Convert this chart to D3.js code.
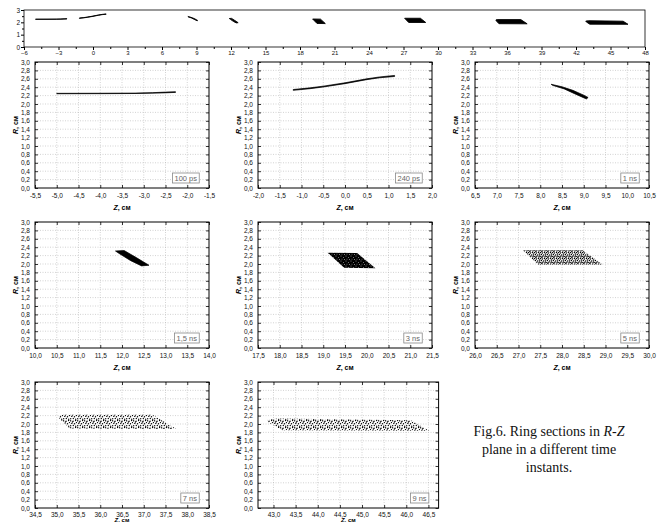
<!DOCTYPE html>
<html>
<head>
<meta charset="utf-8">
<script src="https://cdn.jsdelivr.net/npm/d3@7"></script>
<style>
  body { margin: 0; background: #fff; }
  svg { display: block; font-family: "Liberation Sans", Arial, sans-serif; }
  .grid line { stroke: #b5b5b5; stroke-width: 0.6; stroke-dasharray: 1,1.5; }
  .tick text { font-size: 6.5px; fill: #111; }
</style>
</head>
<body>
<div id="fig"></div>
<script>
// time instants shown in the eight small panels
var timeLabels = ['100 ps', '240 ps', '1 ns', '1,5 ns', '3 ns', '5 ns', '7 ns', '9 ns'];

// Z range (cm) of every small panel
var zDomains = [[-5.5, -1.5], [-2, 2], [6.5, 10.5], [10, 14], [17.5, 21.5], [26, 30], [34.5, 38.5], [42.65, 46.73]];
var rDomain = [0, 3];
var rTicks = [0, 0.2, 0.4, 0.6, 0.8, 1.0, 1.2, 1.4, 1.6, 1.8, 2.0, 2.2, 2.4, 2.6, 2.8, 3.0];

// ring section outlines, [Z, R]
var sec100ps = [[-5.0, 2.254], [-4.0, 2.256], [-3.2, 2.26], [-2.8, 2.27], [-2.5, 2.283], [-2.27, 2.292],
                [-2.27, 2.276], [-2.6, 2.262], [-3.2, 2.25], [-4.0, 2.246], [-5.0, 2.244]];
var sec240ps = [[-1.19, 2.345], [-0.8, 2.385], [-0.5, 2.425], [0.0, 2.505], [0.5, 2.6], [0.8, 2.645], [1.14, 2.68],
                [1.14, 2.655], [0.8, 2.625], [0.5, 2.58], [0.0, 2.485], [-0.5, 2.405], [-0.8, 2.365], [-1.19, 2.325]];
var sec1ns = [[8.25, 2.47], [8.5, 2.41], [8.75, 2.325], [9.0, 2.21], [9.1, 2.155],
              [9.06, 2.12], [8.8, 2.24], [8.55, 2.36], [8.28, 2.445]];
var sec1_5ns = [[11.85, 2.31], [12.05, 2.32], [12.3, 2.17], [12.62, 1.97],
                [12.45, 1.955], [12.2, 2.08], [11.95, 2.24]];
var sec3ns = [[19.1, 2.27], [19.78, 2.26], [20.2, 1.9], [19.48, 1.91]];
var sec5ns = [[27.1, 2.33], [28.47, 2.33], [28.93, 1.99], [27.45, 1.99]];
var sec7ns = [[35.05, 2.2], [35.15, 2.22], [37.2, 2.22], [37.75, 1.88], [35.3, 1.89], [35.05, 2.14]];
var sec9ns = [[42.85, 2.1], [43.1, 2.13], [46.1, 2.09], [46.52, 1.84], [43.2, 1.85], [42.9, 2.03]];

var sections = [sec100ps, sec240ps, sec1ns, sec1_5ns, sec3ns, sec5ns, sec7ns, sec9ns];
var fills = ['solid', 'solid', 'solid', 'solid', 'dense', 'mid', 'sparse', 'sparse'];

// overview strip
var ovZDomain = [-6, 48];
var ovZTicks = [-6, -3, 0, 3, 6, 9, 12, 15, 18, 21, 24, 27, 30, 33, 36, 39, 42, 45, 48];
var ovRTicks = [0, 1, 2, 3];

var caption = ['Fig.6. Ring sections in ', 'plane in a different time', 'instants.'];

var W = 663, H = 522;
var comma = d3.formatLocale({decimal: ',', thousands: ' ', grouping: [3], currency: ['', ''], minus: '-'});
var fmt1 = comma.format('.1f');

var svg = d3.select('#fig').append('svg').attr('width', W).attr('height', H);

// stipple patterns for the scattered particle clouds
var defs = svg.append('defs');
var pDense = defs.append('pattern').attr('id', 'dense').attr('patternUnits', 'userSpaceOnUse')
    .attr('width', 5).attr('height', 5);
pDense.append('rect').attr('width', 5).attr('height', 5).attr('fill', '#000');
[[1, 1], [3.6, 2.4], [2, 4.1], [4.4, 4.6]].forEach(p => {
    pDense.append('circle').attr('cx', p[0]).attr('cy', p[1]).attr('r', 0.45).attr('fill', '#fff');
});
var pMid = defs.append('pattern').attr('id', 'mid').attr('patternUnits', 'userSpaceOnUse')
    .attr('width', 6).attr('height', 6);
[[0.5, 0.6], [2.4, 1.1], [4.5, 0.4], [1.4, 2.6], [3.7, 2.9], [5.5, 2.1], [0.8, 4.6], [2.8, 4.3], [4.8, 5.1], [5.6, 3.9], [1.9, 5.6]]
    .forEach(p => {
        pMid.append('circle').attr('cx', p[0]).attr('cy', p[1]).attr('r', 0.75).attr('fill', '#000');
    });
var pSparse = defs.append('pattern').attr('id', 'sparse').attr('patternUnits', 'userSpaceOnUse')
    .attr('width', 7).attr('height', 7);
[[0.6, 0.8], [3.1, 1.3], [5.6, 0.5], [1.8, 3.4], [4.5, 3.7], [6.5, 2.6], [0.7, 5.8], [3.3, 5.5], [5.7, 6.3], [2.4, 2.0]]
    .forEach(p => {
        pSparse.append('circle').attr('cx', p[0]).attr('cy', p[1]).attr('r', 0.68).attr('fill', '#000');
    });

// ---------- overview strip ----------
var ov = {x: 24, y: 10, w: 621, h: 37};
var ovX = d3.scaleLinear().domain(ovZDomain).range([ov.x, ov.x + ov.w]);
var ovY = d3.scaleLinear().domain(rDomain).range([ov.y + ov.h, ov.y]);

svg.append('g').attr('transform', `translate(0,${ov.y + ov.h})`).attr('color', '#000')
    .call(d3.axisBottom(ovX).tickValues(ovZTicks).tickSize(3).tickPadding(1).tickFormat(d3.format('d')))
    .call(g => g.select('.domain').remove())
    .call(g => g.selectAll('text').style('font-size', '6px'));
svg.append('g').attr('transform', `translate(0,${ov.y + ov.h})`).attr('color', '#000')
    .call(d3.axisBottom(ovX).tickValues(d3.range(-4.5, 48, 3)).tickSize(2).tickFormat(''))
    .call(g => g.select('.domain').remove());
svg.append('g').attr('transform', `translate(${ov.x},0)`).attr('color', '#000')
    .call(d3.axisLeft(ovY).tickValues(ovRTicks).tickSize(3).tickPadding(1).tickFormat(d3.format('d')))
    .call(g => g.select('.domain').remove())
    .call(g => g.selectAll('text').style('font-size', '6.5px'));
svg.append('g').attr('transform', `translate(${ov.x},0)`).attr('color', '#000')
    .call(d3.axisLeft(ovY).tickValues([0.5, 1.5, 2.5]).tickSize(2).tickFormat(''))
    .call(g => g.select('.domain').remove());
svg.append('rect').attr('x', ov.x).attr('y', ov.y).attr('width', ov.w).attr('height', ov.h)
    .attr('fill', 'none').attr('stroke', '#000').attr('stroke-width', 0.8);

var ovLine = d3.line().x(d => ovX(d[0])).y(d => ovY(d[1])).curve(d3.curveLinearClosed);
svg.append('g').selectAll('path').data(sections).join('path')
    .attr('d', ovLine).attr('fill', '#000').attr('stroke', '#000').attr('stroke-width', 0.9)
    .attr('stroke-linejoin', 'round');

// ---------- small panels ----------
var colX = [35, 258, 475];
var rowY = [62, 222, 382];
var pw = 174, ph = 126;

sections.forEach((sec, i) => {
    var x0 = colX[i % 3], y0 = rowY[Math.floor(i / 3)];
    var lastRow = i >= 6;
    var w = i === 7 ? 180.6 : pw;
    var dom = zDomains[i];
    var x = d3.scaleLinear().domain(dom).range([x0, x0 + w]);
    var y = d3.scaleLinear().domain(rDomain).range([y0 + ph, y0]);
    var zTicks = d3.range(Math.ceil(dom[0] * 2 - 1e-6) / 2, dom[1] + 1e-6, 0.5);

    var p = svg.append('g').attr('color', '#000');

    // dotted grid
    p.append('g').attr('class', 'grid').selectAll('line')
        .data(zTicks.filter(t => x(t) > x0 + 1 && x(t) < x0 + w - 1)).join('line')
        .attr('x1', d => x(d)).attr('x2', d => x(d)).attr('y1', y0).attr('y2', y0 + ph);
    p.append('g').attr('class', 'grid').selectAll('line')
        .data(rTicks.slice(1, -1)).join('line')
        .attr('y1', d => y(d)).attr('y2', d => y(d)).attr('x1', x0).attr('x2', x0 + w);

    // axes, ticks pointing inward on all four sides
    p.append('g').attr('transform', `translate(0,${y0 + ph})`)
        .call(d3.axisBottom(x).tickValues(zTicks).tickSize(-3).tickPadding(lastRow ? 4 : 5).tickFormat(fmt1))
        .call(g => g.select('.domain').remove());
    p.append('g').attr('transform', `translate(0,${y0})`)
        .call(d3.axisTop(x).tickValues(zTicks).tickSize(-3).tickFormat(''))
        .call(g => g.select('.domain').remove());
    p.append('g').attr('transform', `translate(${x0},0)`)
        .call(d3.axisLeft(y).tickValues(rTicks).tickSize(-3).tickPadding(5).tickFormat(fmt1))
        .call(g => g.select('.domain').remove());
    p.append('g').attr('transform', `translate(${x0 + w},0)`)
        .call(d3.axisRight(y).tickValues(rTicks).tickSize(-3).tickFormat(''))
        .call(g => g.select('.domain').remove());
    p.selectAll('.tick line').attr('stroke', '#000').attr('stroke-width', 0.8);

    p.append('rect').attr('x', x0).attr('y', y0).attr('width', w).attr('height', ph)
        .attr('fill', 'none').attr('stroke', '#000').attr('stroke-width', 1);

    // ring section
    var line = d3.line().x(d => x(d[0])).y(d => y(d[1])).curve(d3.curveLinearClosed);
    var solid = fills[i] === 'solid';
    p.append('path').datum(sec).attr('d', line)
        .attr('fill', solid ? '#000' : `url(#${fills[i]})`)
        .attr('stroke', solid ? '#000' : 'none')
        .attr('stroke-width', 0.7).attr('stroke-linejoin', 'round');

    // axis titles
    var zt = p.append('text').attr('x', x0 + w / 2).attr('y', lastRow ? 521.5 : y0 + ph + 22)
        .attr('text-anchor', 'middle').style('font-size', lastRow ? '6px' : '7px').style('font-weight', 'bold');
    zt.append('tspan').style('font-style', 'italic').text('Z');
    zt.append('tspan').text(', см');
    var rt = p.append('text').attr('transform', `translate(${x0 - 17},${y0 + ph / 2})rotate(-90)`)
        .attr('text-anchor', 'middle').style('font-size', '7px').style('font-weight', 'bold');
    rt.append('tspan').style('font-style', 'italic').text('R');
    rt.append('tspan').text(', см');

    // time label box
    var box = p.append('rect').attr('fill', '#fff').attr('stroke', '#888').attr('stroke-width', 0.8);
    var tl = p.append('text').attr('x', x0 + w - 12).attr('y', y0 + ph - 7)
        .attr('text-anchor', 'end').style('font-size', '7.5px').attr('fill', '#666').text(timeLabels[i]);
    var bb = tl.node().getBBox();
    box.attr('x', bb.x - 2).attr('y', y0 + ph - 15).attr('width', bb.width + 4).attr('height', 10);
});

// caption
var cap = svg.append('g').style('font-family', '"Liberation Serif", "Times New Roman", serif')
    .style('font-size', '14px').attr('text-anchor', 'middle').attr('fill', '#111');
var c1 = cap.append('text').attr('x', 549).attr('y', 436);
c1.append('tspan').text(caption[0]);
c1.append('tspan').style('font-style', 'italic').text('R');
c1.append('tspan').text('-');
c1.append('tspan').style('font-style', 'italic').text('Z');
cap.append('text').attr('x', 549).attr('y', 454).text(caption[1]);
cap.append('text').attr('x', 549).attr('y', 472).text(caption[2]);
</script>
</body>
</html>
